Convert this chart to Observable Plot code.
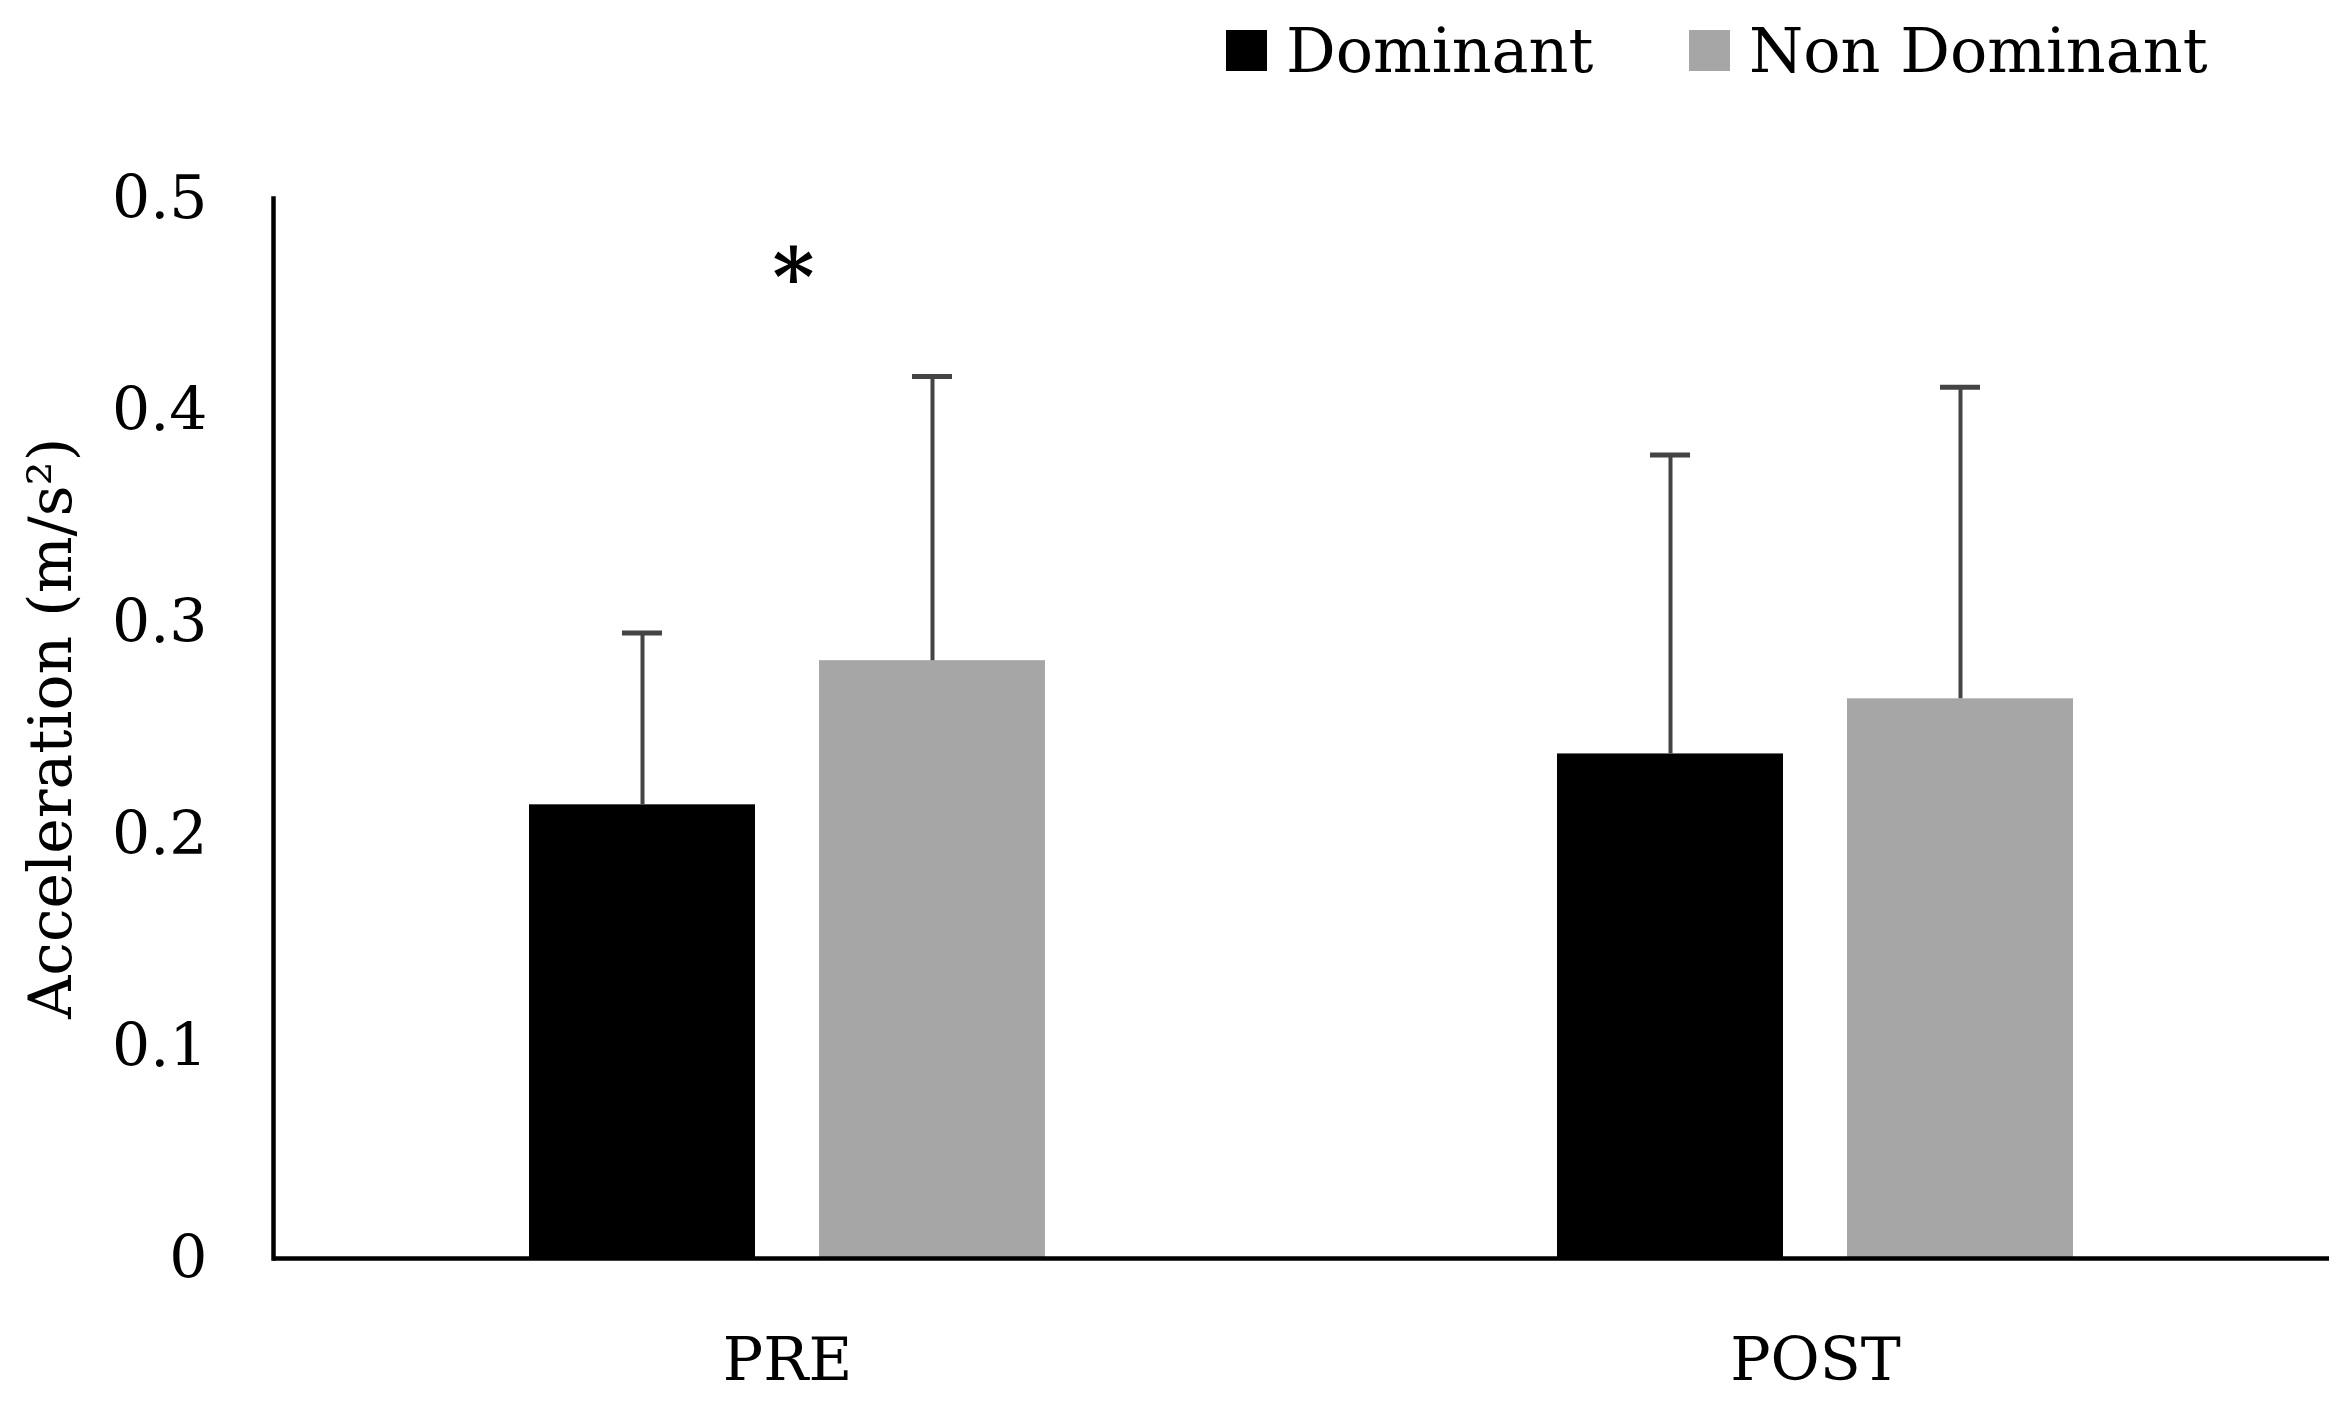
<!DOCTYPE html>
<html>
<head>
<meta charset="utf-8">
<script src="https://cdn.jsdelivr.net/npm/d3@7"></script>
<script src="https://cdn.jsdelivr.net/npm/@observablehq/plot@0.6"></script>
<style>
  html, body { margin: 0; padding: 0; background: #fff; }
  #legend { height: 120px; position: relative; font-family: "DejaVu Serif", serif; font-size: 62px; color: #000; }
  .item { position: absolute; top: 30px; display: flex; align-items: center; height: 41px; }
  .sw { width: 41px; height: 41px; margin-right: 19px; }
</style>
</head>
<body>
<div id="legend"></div>
<div id="chart"></div>
<script>
const categories = ["PRE", "POST"];
const series = ["Dominant", "Non Dominant"];
const dominantMean = [0.214, 0.238];
const dominantSD = [0.081, 0.141];
const nonDominantMean = [0.282, 0.264];
const nonDominantSD = [0.134, 0.147];
const seriesColors = ["#000000", "#a6a6a6"];
const yTicks = [0, 0.1, 0.2, 0.3, 0.4, 0.5];
const significance = [{cat: "PRE", value: 0.462, label: "*"}];

const rows = [];
categories.forEach((c, i) => {
  rows.push({cat: c, series: series[0], mean: dominantMean[i], top: dominantMean[i] + dominantSD[i]});
  rows.push({cat: c, series: series[1], mean: nonDominantMean[i], top: nonDominantMean[i] + nonDominantSD[i]});
});

// legend
const legend = document.getElementById("legend");
const legendX = [1226, 1689];
series.forEach((s, i) => {
  const it = document.createElement("div");
  it.className = "item";
  it.style.left = legendX[i] + "px";
  it.innerHTML = `<div class="sw" style="background:${seriesColors[i]}"></div><span>${s}</span>`;
  legend.appendChild(it);
});

const chart = Plot.plot({
  width: 2347,
  height: 1284,
  marginLeft: 272,
  marginRight: 18,
  marginTop: 78,
  marginBottom: 146,
  style: {fontFamily: "DejaVu Serif", fontSize: "60px", color: "#000", background: "#fff", overflow: "visible"},
  fx: {domain: categories, padding: 0, label: null},
  x: {domain: series, paddingInner: 0.219, paddingOuter: 0.876, axis: null},
  y: {domain: [0, 0.5], axis: null},
  color: {domain: series, range: seriesColors},
  marks: [
    Plot.barY(rows, {fx: "cat", x: "series", y: "mean", fill: "series"}),
    Plot.ruleX(rows, {fx: "cat", x: "series", y1: "mean", y2: "top", stroke: "#444", strokeWidth: 4}),
    Plot.tickY(rows, {fx: "cat", x: "series", y: "top", stroke: "#444", strokeWidth: 5, insetLeft: 93, insetRight: 93}),
    Plot.ruleY([0], {stroke: "#000", strokeWidth: 4.5}),
    Plot.frame({anchor: "left", facetAnchor: "left", stroke: "#000", strokeWidth: 4.5}),
    Plot.axisY({ticks: yTicks, tickSize: 0, tickPadding: 66, fontSize: 60,
      tickFormat: d => d === 0 ? "0" : d.toFixed(1),
      label: "Acceleration (m/s²)", labelAnchor: "center", labelArrow: "none", labelOffset: 245}),
    Plot.axisFx({anchor: "bottom", tickSize: 0, tickPadding: 79, label: null, fontSize: 60}),
    Plot.text(significance, {fx: "cat", y: "value", text: "label", fontSize: 80, fontWeight: "bold", dx: 6})
  ]
});
document.getElementById("chart").appendChild(chart);
</script>
</body>
</html>
